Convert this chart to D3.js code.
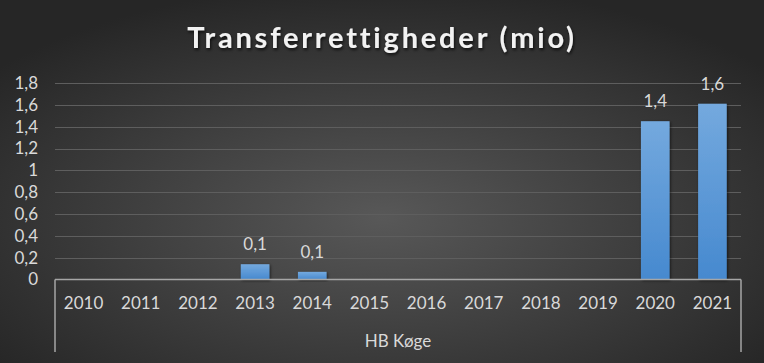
<!DOCTYPE html>
<html><head><meta charset="utf-8">
<script src="https://cdn.jsdelivr.net/npm/d3@7/dist/d3.min.js"></script>
<style>html,body{margin:0;padding:0;background:#2b2b2b;}svg{display:block;}</style>
</head><body><svg id="c" width="764" height="363"></svg>
<script>
const title = "Transferrettigheder (mio)";
const groupLabel = "HB Køge";
const years = ["2010","2011","2012","2013","2014","2015","2016","2017","2018","2019","2020","2021"];
const values = [0,0,0,0.14,0.07,0,0,0,0,0,1.45,1.61];
const yTicks = [0,0.2,0.4,0.6,0.8,1,1.2,1.4,1.6,1.8];

const W=764,H=363;
const m={l:55,r:23,t:83,b:83};
const svg=d3.select("#c");
const defs=svg.append("defs");
const bg=defs.append("radialGradient").attr("id","bg").attr("cx","50%").attr("cy","60%").attr("r","65%");
bg.append("stop").attr("offset","0%").attr("stop-color","#585858");
bg.append("stop").attr("offset","100%").attr("stop-color","#262626");
const bar=defs.append("linearGradient").attr("id","bar").attr("x1",0).attr("y1",0).attr("x2",0).attr("y2",1);
bar.append("stop").attr("offset","0%").attr("stop-color","#74a9de");
bar.append("stop").attr("offset","100%").attr("stop-color","#4689cf");
const sh=defs.append("filter").attr("id","sh").attr("x","-20%").attr("y","-20%").attr("width","140%").attr("height","140%");
sh.append("feDropShadow").attr("dx",1).attr("dy",1).attr("stdDeviation",1.5).attr("flood-color","#000").attr("flood-opacity",0.6);
const tsh=defs.append("filter").attr("id","tsh").attr("x","-10%").attr("y","-30%").attr("width","120%").attr("height","160%");
tsh.append("feDropShadow").attr("dx",1).attr("dy",2).attr("stdDeviation",1.5).attr("flood-color","#000").attr("flood-opacity",0.7);

svg.append("rect").attr("width",W).attr("height",H).attr("fill","url(#bg)");

const x=d3.scaleBand().domain(years).range([m.l,W-m.r]).paddingInner(0.5).paddingOuter(0.25);
const xc=d3.scaleBand().domain(years).range([m.l,W-m.r]);
const y=d3.scaleLinear().domain([0,1.8]).range([279.5,83]);
const font="Lato, 'Open Sans', sans-serif";

svg.append("text").attr("x",382).attr("y",48).attr("text-anchor","middle")
  .attr("font-family",font).attr("font-weight","bold").attr("font-size",29).attr("letter-spacing",2.8)
  .attr("fill","#f2f2f2").attr("filter","url(#tsh)").text(title);

svg.append("g").selectAll("line").data(yTicks.filter(d=>d>0)).join("line")
  .attr("x1",m.l).attr("x2",W-m.r).attr("y1",d=>Math.round(y(d))+0.5).attr("y2",d=>Math.round(y(d))+0.5)
  .attr("stroke","#5e5e5e").attr("stroke-width",1.2);

const fmt=d=>String(d).replace(".",",");
const ya=d3.axisLeft(y).tickValues(yTicks).tickFormat(fmt).tickSize(0).tickPadding(17);
const gy=svg.append("g").attr("transform",`translate(${m.l},0)`).call(ya);
gy.select(".domain").remove();
gy.selectAll("text").attr("font-family",font).attr("font-size",17).attr("fill","#d9d9d9");

const items=values.map((v,i)=>({v,k:years[i]})).filter(d=>d.v>0);
svg.append("g").selectAll("rect").data(items).join("rect")
  .attr("x",d=>x(d.k)).attr("width",x.bandwidth()).attr("y",d=>y(d.v)).attr("height",d=>y(0)-y(d.v))
  .attr("fill","url(#bar)").attr("filter","url(#sh)");

svg.append("g").selectAll("text").data(items).join("text")
  .attr("x",d=>x(d.k)+x.bandwidth()/2).attr("y",d=>y(d.v)-14).attr("text-anchor","middle")
  .attr("font-family",font).attr("font-size",17).attr("fill","#d9d9d9").text(d=>fmt(d3.format(".1f")(d.v)));

const xa=d3.axisBottom(xc).tickSize(0).tickPadding(17);
const gx=svg.append("g").attr("transform",`translate(0,${y(0)})`).call(xa);
gx.select(".domain").remove();
gx.selectAll("text").attr("font-family",font).attr("font-size",17).attr("fill","#d9d9d9");

svg.append("line").attr("x1",m.l).attr("x2",W-m.r).attr("y1",y(0)).attr("y2",y(0)).attr("stroke","#a6a6a6").attr("stroke-width",1.5);
[m.l,W-m.r].forEach(px=>svg.append("line").attr("x1",px).attr("x2",px).attr("y1",y(0)).attr("y2",352).attr("stroke","#a6a6a6").attr("stroke-width",1.5));

svg.append("text").attr("x",(m.l+W-m.r)/2).attr("y",347).attr("text-anchor","middle")
  .attr("font-family",font).attr("font-size",17).attr("fill","#d9d9d9").text(groupLabel);
</script></body></html>
